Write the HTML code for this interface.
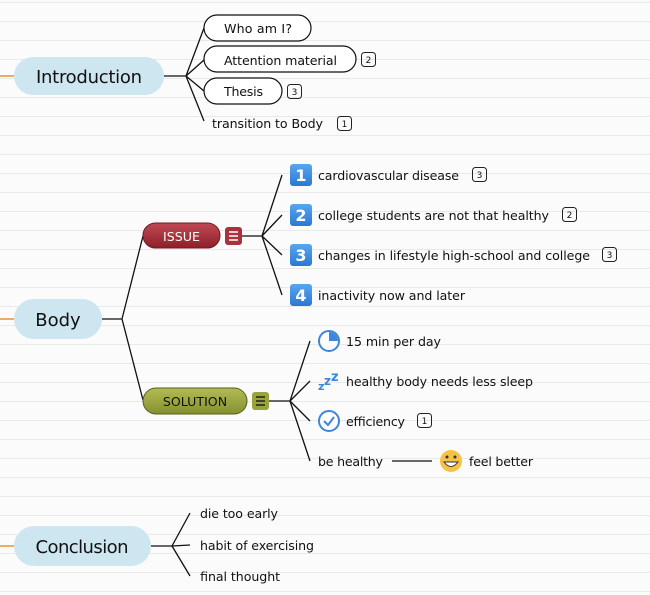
<!DOCTYPE html>
<html><head><style>
body{margin:0;background:#fbfbfb}
svg{display:block}
text{font-family:"DejaVu Sans","Liberation Sans",sans-serif;fill:#111}
</style></head><body>
<svg width="650" height="595" xmlns="http://www.w3.org/2000/svg">
<defs>
<pattern id="lines" width="650" height="19" patternUnits="userSpaceOnUse" y="2">
<rect width="650" height="19" fill="#fbfbfb"/><rect width="650" height="1" fill="#e9e9e9"/>
</pattern>
<linearGradient id="red" x1="0" y1="0" x2="0" y2="1"><stop offset="0" stop-color="#c04a55"/><stop offset="1" stop-color="#8e1f2a"/></linearGradient>
<linearGradient id="olive" x1="0" y1="0" x2="0" y2="1"><stop offset="0" stop-color="#b2bc55"/><stop offset="1" stop-color="#859030"/></linearGradient>
<linearGradient id="blue" x1="0" y1="0" x2="0" y2="1"><stop offset="0" stop-color="#5aa6ee"/><stop offset="1" stop-color="#2a78d6"/></linearGradient>
</defs>
<rect width="650" height="595" fill="url(#lines)"/>
<g stroke="#e0953a" stroke-width="1.5"><line x1="0" y1="76" x2="14" y2="76"/><line x1="0" y1="319" x2="14" y2="319"/><line x1="0" y1="546" x2="14" y2="546"/></g>
<g stroke="#111" stroke-width="1.3" fill="none">
<path d="M164 76H186M186 76L204 28M186 76L204 60M186 76L204 91M186 76L204 121"/>
<path d="M102 319H122M122 319L143 236M122 319L143 400"/>
<path d="M242 236H262M262 236L282 175M262 236L282 215M262 236L282 255M262 236L282 295"/>
<path d="M269 401H290M290 401L310 341M290 401L310 381M290 401L310 421M290 401L310 461"/>
<path d="M392 461H432"/>
<path d="M151 546H172M172 546L190 513M172 546L190 545M172 546L190 576"/>
</g>
<rect x="14" y="57" width="150" height="38" rx="19" fill="#cde6f0"/>
<text x="89" y="83" font-size="18" text-anchor="middle" textLength="106">Introduction</text>
<rect x="14" y="299" width="88" height="40" rx="20" fill="#cde6f0"/>
<text x="58" y="326" font-size="18" text-anchor="middle">Body</text>
<rect x="14" y="526" width="137" height="40" rx="20" fill="#cde6f0"/>
<text x="82" y="553" font-size="18" text-anchor="middle" textLength="93">Conclusion</text>
<g fill="#fff" stroke="#111" stroke-width="1.2">
<rect x="204" y="15" width="107" height="26" rx="13"/>
<rect x="204" y="46" width="152" height="26" rx="13"/>
<rect x="204" y="78" width="78" height="26" rx="13"/>
</g>
<g font-size="12.6">
<text x="224" y="33" textLength="68">Who am I?</text>
<text x="224" y="65" textLength="113">Attention material</text>
<text x="224" y="96" textLength="39">Thesis</text>
<text x="212" y="128" textLength="111">transition to Body</text>
</g>
<g fill="none" stroke="#222" stroke-width="1"><rect x="361.5" y="52.5" width="14" height="14" rx="3"/><rect x="287.5" y="84.5" width="14" height="14" rx="3"/><rect x="337.5" y="116.5" width="14" height="14" rx="3"/>
<rect x="472.5" y="167.5" width="14" height="14" rx="3"/><rect x="562.5" y="207.5" width="14" height="14" rx="3"/><rect x="602.5" y="247.5" width="14" height="14" rx="3"/><rect x="417.5" y="413.5" width="14" height="14" rx="3"/></g>
<g font-size="9" text-anchor="middle"><text x="368.5" y="63">2</text><text x="294.5" y="95">3</text><text x="344.5" y="127">1</text><text x="479.5" y="178">3</text><text x="569.5" y="218">2</text><text x="609.5" y="258">3</text><text x="424.5" y="424">1</text></g>
<rect x="143" y="223" width="77" height="25" rx="12.5" fill="url(#red)" stroke="#6e1a22"/>
<text x="181.5" y="241" font-size="12.6" text-anchor="middle" style="fill:#fff">ISSUE</text>
<rect x="225" y="227" width="17" height="18" rx="3" fill="#a8323e"/>
<g stroke="#fff" stroke-width="1.5"><line x1="229" y1="232" x2="238" y2="232"/><line x1="229" y1="236" x2="238" y2="236"/><line x1="229" y1="240" x2="238" y2="240"/></g>
<g>
<rect x="290" y="164" width="22" height="22" rx="3" fill="url(#blue)"/><rect x="290" y="204" width="22" height="22" rx="3" fill="url(#blue)"/><rect x="290" y="244" width="22" height="22" rx="3" fill="url(#blue)"/><rect x="290" y="284" width="22" height="22" rx="3" fill="url(#blue)"/>
</g>
<g font-size="16" font-weight="bold" text-anchor="middle"><text x="301" y="181" style="fill:#fff">1</text><text x="301" y="221" style="fill:#fff">2</text><text x="301" y="261" style="fill:#fff">3</text><text x="301" y="301" style="fill:#fff">4</text></g>
<g font-size="12.6">
<text x="318" y="180" textLength="141">cardiovascular disease</text>
<text x="318" y="220" textLength="231">college students are not that healthy</text>
<text x="318" y="260" textLength="272">changes in lifestyle high-school and college</text>
<text x="318" y="300" textLength="147">inactivity now and later</text>
</g>
<rect x="143" y="388" width="104" height="26" rx="13" fill="url(#olive)" stroke="#555e1a"/>
<text x="195" y="406" font-size="12.6" text-anchor="middle">SOLUTION</text>
<rect x="252" y="392" width="17" height="18" rx="3" fill="#98a43a"/>
<g stroke="#222" stroke-width="1.5"><line x1="256" y1="397" x2="265" y2="397"/><line x1="256" y1="401" x2="265" y2="401"/><line x1="256" y1="405" x2="265" y2="405"/></g>
<circle cx="329" cy="341" r="10" fill="#fff" stroke="#3d86d8" stroke-width="2"/>
<path d="M329 341V332A9 9 0 0 1 338 341Z" fill="#3d86d8"/>
<text x="318" y="390" font-size="11" font-weight="bold" style="fill:#3d86d8">z</text>
<text x="324" y="385" font-size="12" font-weight="bold" style="fill:#3d86d8">z</text>
<text x="331" y="381" font-size="13" font-weight="bold" style="fill:#3d86d8">z</text>
<circle cx="329" cy="421" r="10" fill="#fff" stroke="#3d86d8" stroke-width="2"/>
<path d="M324 421L328 425L334 417" fill="none" stroke="#3d86d8" stroke-width="2"/>
<circle cx="451" cy="461" r="11" fill="#f5c242"/>
<circle cx="447" cy="457" r="1.5" fill="#333"/><circle cx="455" cy="457" r="1.5" fill="#333"/>
<path d="M444 462Q451 471 458 462Z" fill="#fff" stroke="#333"/>
<g font-size="12.6">
<text x="346" y="346" textLength="95">15 min per day</text>
<text x="346" y="386" textLength="187">healthy body needs less sleep</text>
<text x="346" y="426" textLength="59">efficiency</text>
<text x="318" y="466" textLength="65">be healthy</text>
<text x="469" y="466" textLength="64">feel better</text>
<text x="200" y="518" textLength="78">die too early</text>
<text x="200" y="550" textLength="114">habit of exercising</text>
<text x="200" y="581" textLength="80">final thought</text>
</g>
</svg>
</body></html>
